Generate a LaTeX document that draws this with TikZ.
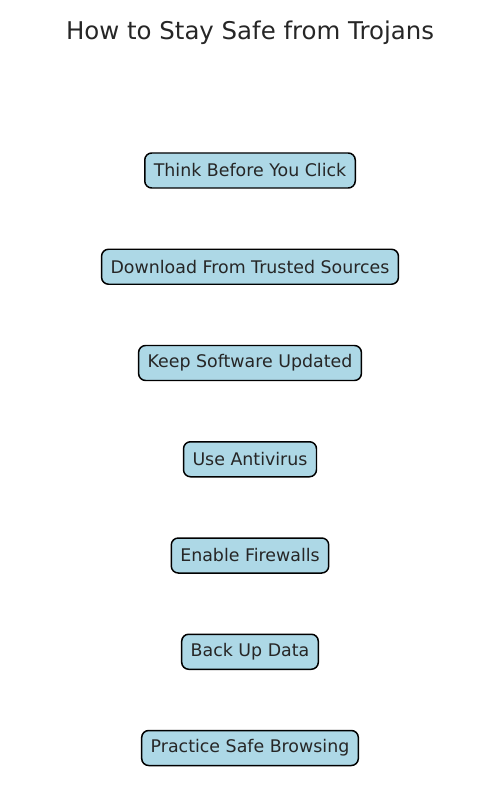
\documentclass[tikz,border=0pt]{standalone}
\usepackage{fontspec}
\setmainfont{DejaVu Sans}
\usepackage{tikz}
\usetikzlibrary{shapes.geometric, arrows}
\definecolor{boxblue}{HTML}{ADD8E6}
\definecolor{ink}{HTML}{262626}
\tikzstyle{tip} = [rectangle, rounded corners=0.14cm, minimum height=0.7cm, inner xsep=0.18cm, inner ysep=0pt, text centered, draw=black, line width=0.85pt, fill=boxblue, text=ink, font=\fontsize{9.9}{11}\selectfont]
\tikzstyle{heading} = [text=ink, font=\fontsize{13.9}{16}\selectfont]

\begin{document}
\begin{tikzpicture}[node distance = 1.925cm]
      \useasboundingbox (0,0) rectangle (10,-16);
      \node (title) [heading] at (5,-0.66) {How to Stay Safe from Trojans};
      \node (click) [tip] at (5,-3.41) {Think Before You Click};
      \node (trusted) [tip, below of = click] {Download From Trusted Sources};
      \node (update) [tip, below of = trusted] {Keep Software Updated};
      \node (antivirus) [tip, below of = update] {Use Antivirus};
      \node (firewall) [tip, below of = antivirus] {Enable Firewalls};
      \node (backup) [tip, below of = firewall] {Back Up Data};
      \node (browse) [tip, below of = backup] {Practice Safe Browsing};
    \end{tikzpicture}
\end{document}
